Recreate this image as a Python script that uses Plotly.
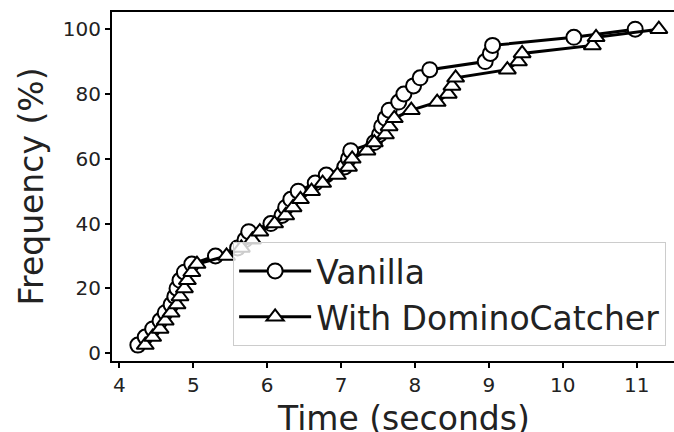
import plotly.graph_objects as go

# Vanilla CDF (time in seconds, cumulative frequency %)
vanilla_time = [4.25, 4.35, 4.45, 4.55, 4.62, 4.70, 4.75, 4.78, 4.82, 4.88,
                4.98, 5.30, 5.60, 5.70, 5.75, 6.05, 6.20, 6.25, 6.32, 6.42,
                6.65, 6.80, 7.05, 7.10, 7.13, 7.45, 7.52, 7.55, 7.60, 7.65,
                7.78, 7.85, 7.98, 8.07, 8.20, 8.95, 9.02, 9.05, 10.15, 10.98]
vanilla_freq = [2.5, 5.0, 7.5, 10.0, 12.5, 15.0, 17.5, 20.0, 22.5, 25.0,
                27.5, 30.0, 32.5, 35.0, 37.5, 40.0, 42.5, 45.0, 47.5, 50.0,
                52.5, 55.0, 57.5, 60.0, 62.5, 65.0, 67.5, 70.0, 72.5, 75.0,
                77.5, 80.0, 82.5, 85.0, 87.5, 90.0, 92.5, 95.0, 97.5, 100.0]

# With DominoCatcher CDF
domino_time = [4.35, 4.45, 4.55, 4.62, 4.70, 4.78, 4.82, 4.88, 4.92, 4.98,
               5.05, 5.45, 5.65, 5.80, 5.90, 6.10, 6.25, 6.35, 6.45, 6.60,
               6.75, 6.95, 7.10, 7.15, 7.35, 7.45, 7.60, 7.65, 7.72, 7.95,
               8.30, 8.45, 8.50, 8.55, 9.25, 9.40, 9.45, 10.40, 10.45, 11.30]
domino_freq = [2.5, 5.0, 7.5, 10.0, 12.5, 15.0, 17.5, 20.0, 22.5, 25.0,
               27.5, 30.0, 32.5, 35.0, 37.5, 40.0, 42.5, 45.0, 47.5, 50.0,
               52.5, 55.0, 57.5, 60.0, 62.5, 65.0, 67.5, 70.0, 72.5, 75.0,
               77.5, 80.0, 82.5, 85.0, 87.5, 90.0, 92.5, 95.0, 97.5, 100.0]

x_ticks = [4, 5, 6, 7, 8, 9, 10, 11]
y_ticks = [0, 20, 40, 60, 80, 100]

FONT = "DejaVu Sans"
TEXT = "#222222"

fig = go.Figure()
fig.add_trace(go.Scatter(
    x=vanilla_time, y=vanilla_freq, mode="lines+markers", name="Vanilla",
    line=dict(color="black", width=3),
    marker=dict(symbol="circle", size=15, color="white",
                line=dict(color="black", width=2)),
))
fig.add_trace(go.Scatter(
    x=domino_time, y=domino_freq, mode="lines+markers", name="With DominoCatcher",
    line=dict(color="black", width=3),
    marker=dict(symbol="triangle-up", size=15, color="white",
                line=dict(color="black", width=2)),
))

fig.update_layout(
    width=674, height=432,
    margin=dict(l=112, r=0, t=12, b=71),
    plot_bgcolor="white", paper_bgcolor="white",
    font=dict(family=FONT, color=TEXT),
    showlegend=True,
    legend=dict(
        x=0.986, y=0.043, xanchor="right", yanchor="bottom",
        bgcolor="rgba(255,255,255,0.8)", bordercolor="#cccccc", borderwidth=1,
        font=dict(family=FONT, size=33, color=TEXT),
        itemwidth=72,
    ),
    xaxis=dict(
        range=[3.9, 11.505], tickvals=x_ticks, ticktext=[str(v) for v in x_ticks],
        showgrid=False, zeroline=False, automargin=False,
        showline=True, linecolor="black", linewidth=2, mirror=True,
        ticks="outside", ticklen=5, tickwidth=1.5, tickcolor="black",
        tickfont=dict(family=FONT, size=20, color=TEXT),
    ),
    yaxis=dict(
        range=[-2.4, 105.3], tickvals=y_ticks, ticktext=[str(v) for v in y_ticks],
        showgrid=False, zeroline=False, automargin=False,
        showline=True, linecolor="black", linewidth=2, mirror=False,
        ticks="outside", ticklen=5, tickwidth=1.5, tickcolor="black",
        tickfont=dict(family=FONT, size=20, color=TEXT),
        title=dict(text="Frequency (%)", font=dict(family=FONT, size=33, color=TEXT),
                   standoff=9),
    ),
    annotations=[dict(
        text="Time (seconds)", xref="paper", yref="paper",
        x=0.518, y=-0.165, xanchor="center", yanchor="middle",
        showarrow=False, font=dict(family=FONT, size=33, color=TEXT),
    )],
)

fig.write_html(
    "out.html",
    config={"displayModeBar": False},
    post_script="document.body.style.margin='0';document.body.style.overflow='hidden';",
)
